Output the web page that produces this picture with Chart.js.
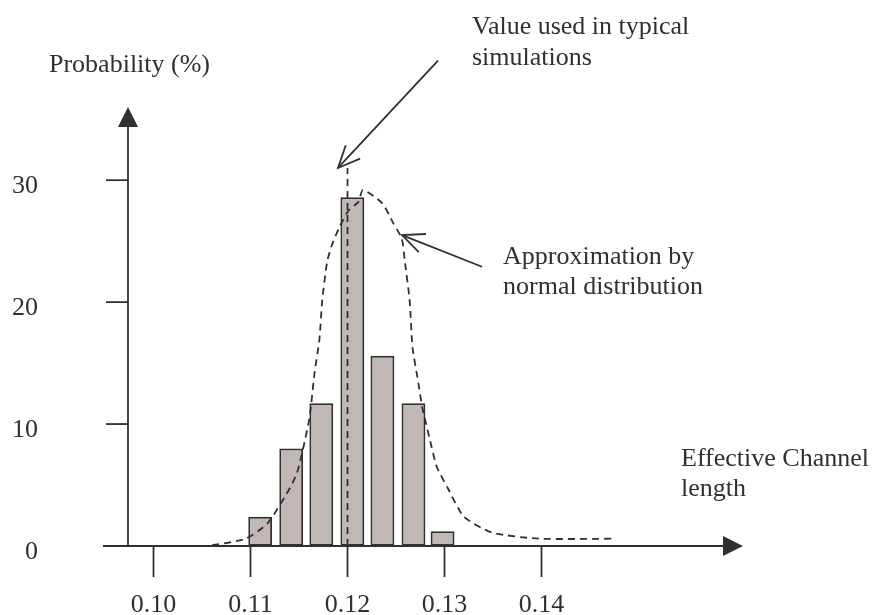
<!DOCTYPE html>
<html>
<head>
<meta charset="utf-8">
<script src="https://cdn.jsdelivr.net/npm/chart.js@4/dist/chart.umd.min.js"></script>
<style>
  body { margin: 0; background: #fff; }
  #chart { display: block; }
</style>
</head>
<body>
<canvas id="chart" width="877" height="615"></canvas>
<script>
// histogram of effective channel length
const binCenters = [0.1110, 0.1142, 0.1173, 0.1205, 0.1236, 0.1268, 0.1298];
const binProbability = [2.4, 8.0, 11.7, 28.6, 15.6, 11.7, 1.2];

// hand-drawn normal approximation
const normalX = [0.0974, 0.1053, 0.1095, 0.1118, 0.1141, 0.1148, 0.1154, 0.1161, 0.1166, 0.1171,
                 0.1174, 0.1179, 0.1184, 0.1192, 0.1201, 0.1211, 0.1216, 0.1236, 0.1247, 0.1256,
                 0.1259, 0.1264, 0.1267, 0.1273, 0.1277, 0.1285, 0.1292, 0.1303, 0.1320, 0.1349,
                 0.1397, 0.1476];
const normalY = [0, 0, 0.6, 1.9, 4.8, 6.0, 7.9, 10.6, 14.2, 16.9,
                 20.2, 23.3, 24.7, 26.2, 27.5, 28.2, 29.2, 28.1, 26.5, 25.2,
                 23.4, 20.2, 16.3, 13.4, 11.4, 8.7, 6.5, 4.8, 2.4, 1.1,
                 0.6, 0.6];

// nominal value marker
const typicalValue = 0.12;
const typicalHeight = 31;

const xTicks = [0.10, 0.11, 0.12, 0.13, 0.14];
const xTickLabels = ['0.10', '0.11', '0.12', '0.13', '0.14'];
const yTicks = [0, 10, 20, 30];
const yTickLabels = ['0', '10', '20', '30'];

const INK = '#303030';
const FONT = '26px "Liberation Serif", "Times New Roman", serif';

function arrowHead(ctx, x1, y1, x2, y2, len, spread) {
  const a = Math.atan2(y2 - y1, x2 - x1);
  ctx.beginPath();
  ctx.moveTo(x2 - len * Math.cos(a - spread), y2 - len * Math.sin(a - spread));
  ctx.lineTo(x2, y2);
  ctx.lineTo(x2 - len * Math.cos(a + spread), y2 - len * Math.sin(a + spread));
  ctx.stroke();
}

const axesPlugin = {
  id: 'handAxes',
  beforeDatasetsDraw(chart) {
    const ctx = chart.ctx;
    const xs = chart.scales.x, ys = chart.scales.y;
    const area = chart.chartArea;
    const y0 = ys.getPixelForValue(0);
    const x0 = area.left;
    ctx.save();
    ctx.strokeStyle = INK;
    ctx.fillStyle = INK;
    ctx.lineWidth = 1.8;

    // x axis with arrow
    ctx.beginPath();
    ctx.moveTo(x0 - 25, y0);
    ctx.lineTo(area.right - 18, y0);
    ctx.stroke();
    ctx.beginPath();
    ctx.moveTo(area.right, y0);
    ctx.lineTo(area.right - 20, y0 - 10);
    ctx.lineTo(area.right - 20, y0 + 10);
    ctx.closePath();
    ctx.fill();

    // y axis with arrow
    ctx.beginPath();
    ctx.moveTo(x0, y0);
    ctx.lineTo(x0, area.top + 18);
    ctx.stroke();
    ctx.beginPath();
    ctx.moveTo(x0, area.top);
    ctx.lineTo(x0 - 10, area.top + 20);
    ctx.lineTo(x0 + 10, area.top + 20);
    ctx.closePath();
    ctx.fill();

    ctx.font = FONT;
    // x ticks
    ctx.textAlign = 'center';
    ctx.textBaseline = 'alphabetic';
    xTicks.forEach((v, i) => {
      const px = xs.getPixelForValue(v);
      ctx.beginPath();
      ctx.moveTo(px, y0);
      ctx.lineTo(px, y0 + 31);
      ctx.stroke();
      ctx.fillText(xTickLabels[i], px, y0 + 66);
    });

    // y ticks
    ctx.textAlign = 'right';
    yTicks.forEach((v, i) => {
      const py = ys.getPixelForValue(v);
      if (v !== 0) {
        ctx.beginPath();
        ctx.moveTo(x0 - 22, py);
        ctx.lineTo(x0, py);
        ctx.stroke();
      }
      ctx.fillText(yTickLabels[i], 38, py + 13);
    });
    ctx.restore();
  },
  afterDatasetsDraw(chart) {
    const ctx = chart.ctx;
    const xs = chart.scales.x, ys = chart.scales.y;
    ctx.save();
    ctx.strokeStyle = INK;
    ctx.fillStyle = INK;
    ctx.lineWidth = 1.8;
    ctx.font = FONT;
    ctx.textAlign = 'left';
    ctx.textBaseline = 'alphabetic';

    ctx.fillText('Probability (%)', 49, 72);
    ctx.fillText('Value used in typical', 472, 34);
    ctx.fillText('simulations', 472, 65);
    ctx.fillText('Approximation by', 503, 264);
    ctx.fillText('normal distribution', 503, 294);
    ctx.fillText('Effective Channel', 681, 466);
    ctx.fillText('length', 681, 496);

    // arrows to the nominal value and to the fitted curve
    const arrows = [
      [0.12933, 39.8, 0.11902, 31.0],
      [0.13387, 22.9, 0.12562, 25.5]
    ];
    arrows.forEach(([xa, ya, xb, yb]) => {
      const x1 = xs.getPixelForValue(xa), y1 = ys.getPixelForValue(ya);
      const x2 = xs.getPixelForValue(xb), y2 = ys.getPixelForValue(yb);
      ctx.beginPath();
      ctx.moveTo(x1, y1);
      ctx.lineTo(x2, y2);
      ctx.stroke();
      arrowHead(ctx, x1, y1, x2, y2, 24, 0.42);
    });
    ctx.restore();
  }
};

new Chart(document.getElementById('chart'), {
  data: {
    datasets: [
      {
        type: 'bar',
        data: binCenters.map((x, i) => ({ x: x, y: binProbability[i] })),
        backgroundColor: '#c1b7b4',
        borderColor: INK,
        borderWidth: 2,
        borderSkipped: false,
        barPercentage: 0.82,
        categoryPercentage: 1,
        order: 2
      },
      {
        type: 'line',
        data: normalX.map((x, i) => ({ x: x, y: normalY[i] })),
        borderColor: INK,
        borderWidth: 1.8,
        borderDash: [7, 5],
        pointRadius: 0,
        tension: 0.2,
        fill: false,
        order: 1
      },
      {
        type: 'line',
        data: [{ x: typicalValue, y: 0 }, { x: typicalValue, y: typicalHeight }],
        borderColor: INK,
        borderWidth: 1.8,
        borderDash: [7, 5],
        pointRadius: 0,
        fill: false,
        order: 0
      }
    ]
  },
  options: {
    responsive: false,
    animation: false,
    layout: {
      padding: { left: 128, right: 134, top: 107, bottom: 69 }
    },
    scales: {
      x: { type: 'linear', min: 0.097371, max: 0.160773, offset: false, display: false },
      y: { min: 0, max: 36, display: false }
    },
    plugins: {
      legend: { display: false },
      tooltip: { enabled: false }
    }
  },
  plugins: [axesPlugin]
});
</script>
</body>
</html>
